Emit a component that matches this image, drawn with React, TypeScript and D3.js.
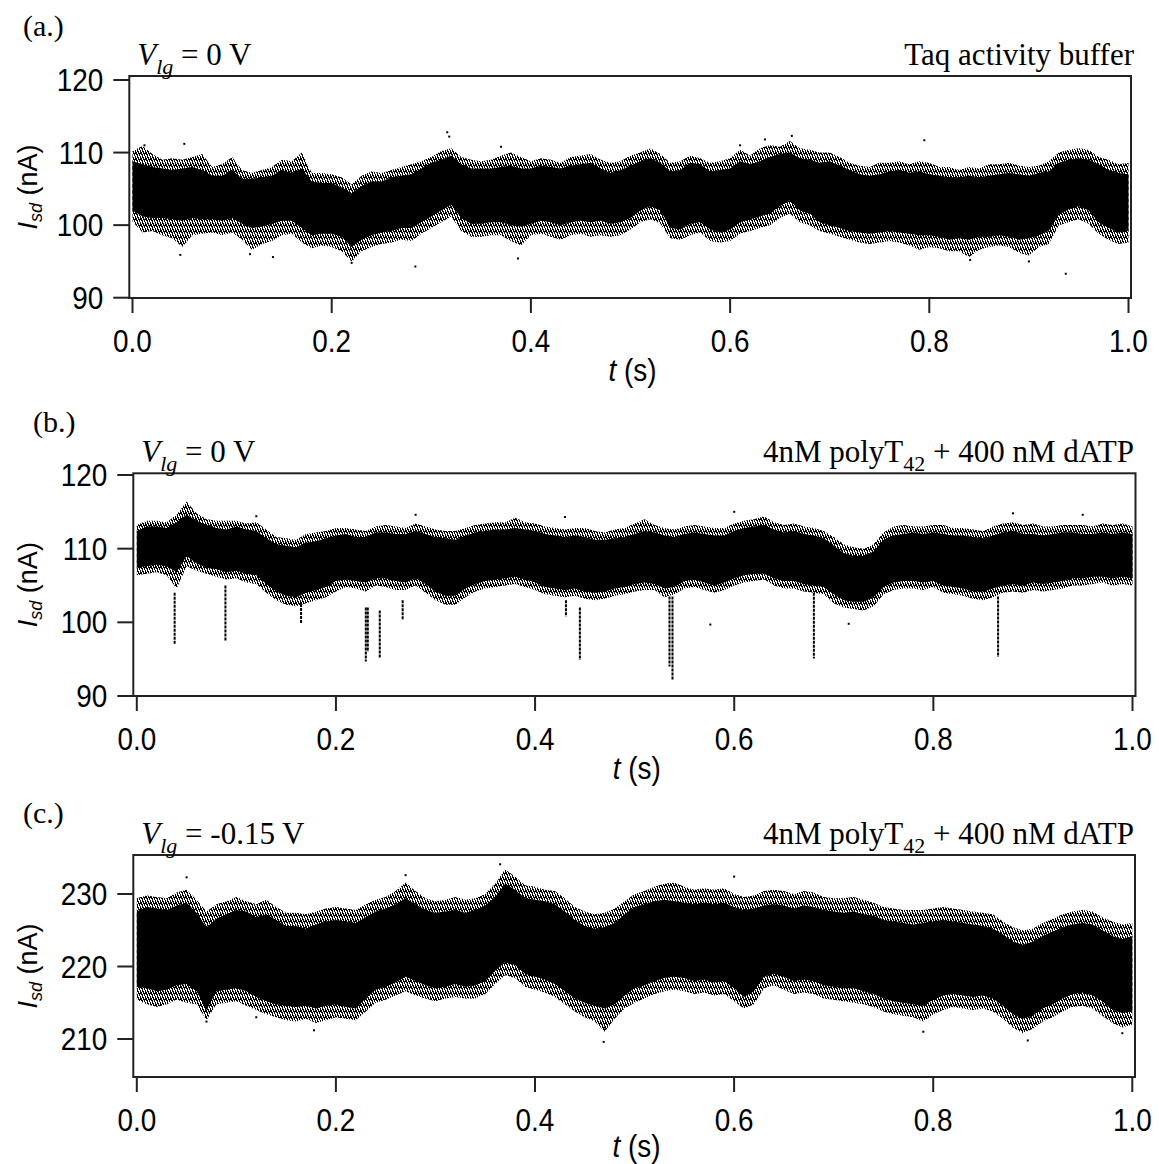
import React from "react";
import * as d3 from "d3";

// sample times (s), one sample every 10 ms
const sampleT = d3.range(101).map((i) => i / 100);

// ---------- Panel (a): Vlg = 0 V, Taq activity buffer ----------
const aCoreHi = [108.8,108.4,108.0,107.8,107.6,107.8,108.0,107.6,106.8,106.8,
107.6,106.4,106.4,106.6,106.8,107.6,107.2,107.8,106.0,105.8,
105.8,105.2,104.4,105.4,106.0,106.0,106.6,106.8,107.0,107.8,
108.6,109.0,109.6,108.4,107.8,107.8,107.8,108.0,108.2,107.8,
107.8,108.2,108.0,107.8,108.2,108.4,108.6,107.8,107.2,107.6,
108.2,108.8,109.2,108.6,107.4,107.6,108.6,108.4,107.4,107.6,
107.8,108.8,108.4,108.8,109.4,109.8,110.0,109.2,109.0,108.6,
108.8,108.2,107.6,107.0,106.8,107.0,107.4,107.6,107.2,107.4,
107.0,106.8,106.6,106.6,106.8,106.6,106.8,107.0,107.2,107.0,
106.8,107.2,107.4,108.6,109.0,109.2,109.0,108.4,107.6,107.2,
107.0];
const aCoreLo = [102.0,101.2,101.0,101.0,100.8,100.6,101.0,100.8,100.8,100.6,
101.0,100.2,99.6,99.8,100.2,100.6,100.6,99.6,98.6,98.8,
98.8,98.4,97.0,98.0,98.6,99.0,99.2,99.6,99.6,100.4,
101.2,102.0,102.8,101.0,100.2,100.2,100.4,100.4,100.0,99.8,
100.2,100.6,100.4,100.0,100.4,100.6,100.4,100.6,100.2,100.4,
101.0,102.0,102.6,102.0,99.6,99.4,100.2,100.4,99.4,99.0,
99.4,100.4,100.8,101.2,101.6,102.6,103.4,102.0,101.6,100.4,
100.0,99.6,99.2,99.0,98.8,99.0,99.2,99.0,98.8,98.6,
98.6,98.4,98.0,98.2,98.0,98.4,98.4,98.6,98.4,98.0,
98.2,98.6,99.2,101.4,102.2,102.6,102.0,100.4,99.6,99.0,
99.2];
const aOuterHi = [110.2,110.9,109.8,109.0,109.2,109.0,109.4,109.8,108.0,108.4,
109.4,107.6,107.2,107.6,108.0,109.0,108.8,110.0,107.2,107.2,
107.0,106.6,105.6,106.8,107.4,107.2,107.6,108.0,108.4,108.8,
109.4,110.2,110.6,109.4,109.0,108.8,109.0,109.6,110.0,109.4,
108.8,109.2,109.0,108.6,109.4,109.6,109.8,109.0,108.6,108.8,
109.6,110.0,110.6,109.8,108.6,108.8,109.6,109.2,108.6,108.8,
109.2,110.4,109.6,110.6,111.0,110.8,111.6,110.6,110.4,110.0,
110.0,109.4,108.6,108.2,108.0,108.6,108.6,108.8,108.4,108.8,
108.6,108.0,108.0,107.6,108.0,107.8,108.4,108.4,108.6,108.2,
108.0,108.2,108.8,110.0,110.4,110.6,110.4,109.4,109.0,108.4,
108.6];
const aOuterLo = [100.5,99.0,99.2,98.6,98.2,97.0,98.6,98.8,99.0,98.6,
99.0,98.0,96.6,97.4,97.8,98.6,98.8,97.6,96.8,97.2,
97.0,96.4,95.0,96.4,97.0,97.4,97.6,98.0,97.8,98.8,
99.6,100.4,101.2,99.2,98.4,98.4,98.6,98.6,97.8,97.2,
98.6,98.8,98.4,98.0,98.6,98.8,98.4,98.6,98.4,98.6,
99.4,100.4,100.8,100.2,98.2,98.0,98.6,99.0,97.8,97.6,
97.8,98.8,99.2,99.6,100.0,101.0,101.6,100.4,100.0,99.2,
98.8,98.4,98.0,97.6,97.4,97.6,97.8,97.6,97.2,96.6,
97.0,96.8,96.4,96.4,95.6,96.6,97.0,97.2,97.0,96.2,
95.8,97.0,97.4,100.0,100.4,100.8,100.2,98.8,98.0,97.4,
97.6];
const aDotT = [0.012,0.048,0.052,0.141,0.118,0.22,0.284,0.316,0.318,0.387,0.635,0.662,0.795,0.841,0.9,0.937,0.61,0.37];
const aDotV = [111.0,95.9,111.2,95.6,96.0,94.8,94.3,112.8,112.2,95.4,111.8,112.3,111.7,95.2,95.0,93.3,111.0,110.8];

// ---------- Panel (b): Vlg = 0 V, 4nM polyT42 + 400 nM dATP ----------
const bCoreHi = [112.4,113.0,113.0,112.8,113.6,114.6,113.8,113.2,112.8,112.6,
113.0,112.6,112.4,111.4,110.6,110.4,110.2,110.8,111.0,111.4,
111.8,112.0,111.6,111.6,112.2,112.2,112.0,112.0,112.4,112.0,
111.6,111.4,111.2,111.8,112.2,112.4,112.6,112.6,112.8,112.6,
112.4,112.0,111.8,111.6,111.8,111.6,111.2,111.2,111.4,111.6,
112.0,112.4,112.2,111.8,111.6,112.0,112.2,112.0,111.8,111.8,
112.4,112.8,113.0,113.2,112.6,112.2,112.4,112.0,111.8,111.4,
110.4,109.4,109.0,109.0,109.6,111.2,111.8,112.0,112.2,112.0,
112.2,112.0,111.8,111.8,111.6,111.4,111.8,112.2,112.4,112.0,
112.0,111.8,112.0,112.2,112.2,112.0,112.0,112.2,112.0,112.2,
112.0];
const bCoreLo = [107.4,107.6,107.8,107.6,106.8,109.0,108.0,107.4,107.2,106.8,
107.0,106.6,106.4,105.2,104.2,103.6,103.4,104.0,104.4,104.8,
105.6,105.8,105.6,105.4,106.0,106.0,105.6,105.4,106.0,105.2,
104.2,103.6,103.6,104.6,105.2,105.6,105.8,106.0,106.2,105.8,
105.4,104.8,104.6,104.4,104.6,104.2,104.0,104.2,104.6,104.8,
105.2,105.4,105.2,104.6,104.8,105.6,105.8,105.4,105.0,105.4,
106.0,106.4,106.6,106.6,106.0,105.6,105.6,105.2,105.0,104.8,
103.8,103.0,102.8,102.8,103.4,104.8,105.4,105.6,105.6,105.4,
105.6,105.0,104.8,104.6,104.2,104.2,104.6,105.0,105.2,105.0,
105.4,105.2,105.4,105.6,106.0,106.0,106.2,106.2,106.0,106.2,
106.0];
const bOuterHi = [113.2,113.8,113.8,113.6,114.6,116.4,114.8,114.0,113.8,113.8,
113.8,113.4,113.6,112.6,111.6,111.4,111.2,112.0,112.2,112.4,
112.8,112.8,112.6,112.4,113.0,113.2,113.0,112.8,113.4,113.0,
112.6,112.4,112.4,112.8,113.2,113.4,113.6,113.6,114.2,113.6,
113.4,113.0,112.8,112.6,112.8,112.8,112.4,112.2,112.6,112.8,
113.4,114.0,113.2,112.8,112.6,113.0,113.2,113.0,112.8,112.8,
113.4,113.8,114.0,114.4,113.6,113.2,113.4,113.0,112.8,112.4,
111.6,110.6,110.2,110.0,110.6,112.2,113.0,113.2,113.0,113.0,
113.2,113.2,112.8,112.8,112.6,112.4,113.0,113.4,113.6,113.2,
113.4,113.0,113.0,113.2,113.2,113.2,113.0,113.4,113.2,113.4,
113.0];
const bOuterLo = [106.4,106.6,106.8,106.4,104.6,107.6,107.0,106.6,106.2,105.8,
106.0,105.4,105.2,104.0,103.0,102.4,102.2,102.6,103.0,103.4,
104.2,104.8,104.6,104.2,105.0,104.8,104.4,104.4,105.0,104.0,
103.0,102.4,102.4,103.4,104.2,104.6,104.8,105.0,105.2,104.8,
104.4,103.8,103.6,103.4,103.6,103.2,103.0,103.2,103.6,103.8,
104.2,104.4,104.4,103.4,103.8,104.6,104.8,104.4,104.0,104.4,
105.0,105.4,105.6,105.8,105.0,104.6,104.6,104.2,104.0,103.8,
102.6,102.0,101.8,101.6,102.2,103.8,104.4,104.6,104.6,104.4,
104.8,104.0,103.8,103.6,103.2,103.0,103.4,104.0,104.2,104.0,
104.4,104.2,104.4,104.6,105.0,105.0,105.2,105.4,105.0,105.2,
105.0];
const bSpikeT = [0.038,0.089,0.165,0.230,0.232,0.244,0.267,0.431,0.445,0.535,0.538,0.68,0.865];
const bSpikeTop = [104.0,105.0,102.5,102.0,102.0,101.6,103.0,103.0,102.0,103.5,103.5,104.0,103.5];
const bSpikeBottom = [97.0,97.4,99.9,94.7,96.0,95.1,100.3,100.8,94.9,94.0,92.2,95.1,95.3];
const bDotT = [0.576,0.715,0.28,0.43,0.6,0.12,0.88,0.95];
const bDotV = [99.7,99.8,114.6,114.3,115.0,114.4,114.8,114.6];

// ---------- Panel (c): Vlg = -0.15 V, 4nM polyT42 + 400 nM dATP ----------
const cCoreHi = [227.6,228.2,228.0,227.8,228.4,228.8,227.4,225.4,226.6,227.2,
227.8,227.6,226.8,227.2,226.4,225.6,225.6,225.2,225.8,226.2,
226.4,226.2,226.0,226.8,227.6,228.0,228.6,229.4,228.6,227.8,
227.4,227.6,227.8,227.4,227.8,228.4,229.6,231.4,230.6,229.4,
229.2,229.0,228.6,227.6,226.4,225.6,225.2,225.4,226.0,227.2,
228.2,228.6,229.0,229.2,229.0,228.8,228.6,228.8,228.6,228.8,
228.2,227.8,228.0,228.4,228.6,228.4,228.0,228.4,228.2,227.8,
227.6,227.4,227.6,227.2,227.0,226.4,226.2,226.0,225.8,226.0,
226.2,226.4,226.2,226.0,225.8,225.6,225.2,224.4,223.4,223.0,
223.4,224.2,224.8,225.4,225.8,226.0,225.8,225.0,224.2,223.8,
224.2];
const cCoreLo = [217.2,217.0,216.6,216.8,217.4,217.6,216.6,214.0,216.6,216.8,
217.0,216.6,215.8,215.2,214.8,214.6,214.4,214.6,214.2,214.6,
214.8,214.4,214.2,215.6,216.8,217.2,217.8,218.6,218.0,217.4,
217.0,217.2,217.6,217.2,217.4,218.0,219.4,220.6,220.2,219.0,
218.6,218.2,217.6,216.6,215.6,215.0,214.6,214.2,214.8,216.0,
217.0,217.4,218.0,218.4,218.6,218.4,218.0,218.2,217.8,218.0,
217.0,215.8,216.6,218.6,219.0,218.6,218.0,218.2,218.0,217.4,
217.2,217.0,217.0,216.6,216.2,215.6,215.2,215.0,214.8,214.6,
215.4,216.0,216.2,216.0,215.8,216.0,215.6,214.6,213.4,212.8,
213.2,214.2,214.8,215.6,216.2,216.4,216.0,215.2,214.0,213.6,
213.8];
const cOuterHi = [229.4,229.8,229.6,229.4,230.2,230.6,229.2,227.6,228.6,229.0,
229.6,229.0,228.6,229.2,228.2,227.4,227.4,227.2,227.6,228.0,
228.2,228.0,227.8,228.6,229.2,229.6,230.4,231.6,230.4,229.4,
229.0,229.2,229.6,229.2,229.4,230.0,231.4,233.4,232.4,231.2,
231.0,230.6,230.4,229.4,228.2,227.6,227.2,227.4,228.0,229.0,
230.0,230.4,231.0,231.4,231.6,231.0,230.6,230.8,230.6,230.8,
230.0,229.6,229.8,230.4,230.6,230.4,230.0,230.4,230.2,229.6,
229.4,229.4,229.6,229.2,228.8,228.2,228.0,227.8,227.8,227.8,
228.0,228.2,228.0,227.8,227.6,227.4,227.2,226.2,225.4,225.0,
225.2,226.0,226.6,227.2,227.6,227.8,227.6,226.8,226.2,225.8,
226.0];
const cOuterLo = [215.4,214.8,214.4,214.8,215.4,215.0,214.8,212.6,214.8,215.0,
215.2,214.6,214.0,213.4,213.0,212.6,212.4,212.8,212.2,212.6,
213.0,212.8,212.6,213.8,215.0,215.4,216.0,216.6,216.0,215.6,
215.2,215.6,215.8,215.6,215.6,216.2,217.6,218.8,218.4,217.2,
216.8,216.4,215.8,214.8,213.8,213.0,212.4,211.0,212.8,214.2,
215.0,215.6,216.2,216.6,216.8,216.6,216.2,216.4,216.0,216.2,
215.2,214.2,214.8,217.0,217.4,216.8,216.2,216.4,216.2,215.6,
215.4,215.2,215.0,214.8,214.4,213.8,213.4,213.2,213.0,212.4,
213.4,214.0,214.4,214.2,214.0,214.2,213.8,212.8,211.6,210.8,
211.4,212.4,213.0,213.8,214.4,214.6,214.2,213.2,212.2,211.6,
212.0];
const cDotT = [0.05,0.07,0.178,0.365,0.469,0.79,0.895,0.99,0.6,0.12,0.27,0.47];
const cDotV = [232.3,212.4,211.2,234.1,209.6,211.0,209.8,210.8,232.4,213.0,232.6,211.6];

// ---------- Axis tick labels & texts ----------
const xTicks = [0, 0.2, 0.4, 0.6, 0.8, 1.0];
const abYTicks = [90, 100, 110, 120];
const cYTicks = [210, 220, 230];
const panelLetters = ["(a.)", "(b.)", "(c.)"];
const gateVoltages = ["0 V", "0 V", "-0.15 V"];

const SANS = "'Liberation Sans', Arial, Helvetica, sans-serif";
const SERIF = "'Liberation Serif', 'Times New Roman', Times, serif";

type PanelCfg = {
  id: string;
  letter: string;
  letterX: number;
  letterY: number;
  vlg: string;
  condition: "taq" | "poly";
  titleY: number;
  frame: { x0: number; x1: number; y0: number; y1: number };
  xRange: [number, number];
  yDomain: [number, number];
  yRange: [number, number];
  yTicks: number[];
  coreHi: number[];
  coreLo: number[];
  outerHi: number[];
  outerLo: number[];
  dotT: number[];
  dotV: number[];
  spikeT?: number[];
  spikeTop?: number[];
  spikeBottom?: number[];
};

const panels: PanelCfg[] = [
  {
    id: "a", letter: panelLetters[0], letterX: 23, letterY: 36, vlg: gateVoltages[0], condition: "taq", titleY: 65,
    frame: { x0: 129.3, x1: 1131, y0: 76, y1: 298 },
    xRange: [132.5, 1128.5], yDomain: [90, 120], yRange: [297.7, 80], yTicks: abYTicks,
    coreHi: aCoreHi, coreLo: aCoreLo, outerHi: aOuterHi, outerLo: aOuterLo, dotT: aDotT, dotV: aDotV,
  },
  {
    id: "b", letter: panelLetters[1], letterX: 33, letterY: 432, vlg: gateVoltages[1], condition: "poly", titleY: 462,
    frame: { x0: 133.3, x1: 1135.5, y0: 473.3, y1: 696 },
    xRange: [136.8, 1132.5], yDomain: [90, 120], yRange: [696, 475], yTicks: abYTicks,
    coreHi: bCoreHi, coreLo: bCoreLo, outerHi: bOuterHi, outerLo: bOuterLo, dotT: bDotT, dotV: bDotV,
    spikeT: bSpikeT, spikeTop: bSpikeTop, spikeBottom: bSpikeBottom,
  },
  {
    id: "c", letter: panelLetters[2], letterX: 23, letterY: 823, vlg: gateVoltages[2], condition: "poly", titleY: 844,
    frame: { x0: 133.3, x1: 1135, y0: 855, y1: 1077 },
    xRange: [136.8, 1132.3], yDomain: [210, 230], yRange: [1039, 894], yTicks: cYTicks,
    coreHi: cCoreHi, coreLo: cCoreLo, outerHi: cOuterHi, outerLo: cOuterLo, dotT: cDotT, dotV: cDotV,
  },
];

function Panel({ p }: { p: PanelCfg }) {
  const x = d3.scaleLinear().domain([0, 1]).range(p.xRange);
  const y = d3.scaleLinear().domain(p.yDomain).range(p.yRange);
  const idx = sampleT.map((_, i) => i);
  const outer = d3
    .area<number>()
    .x((i) => x(sampleT[i]))
    .y0((i) => y(p.outerLo[i]))
    .y1((i) => y(p.outerHi[i]))
    .curve(d3.curveLinear);
  const core = d3
    .area<number>()
    .x((i) => x(sampleT[i]))
    .y0((i) => y(p.coreLo[i]))
    .y1((i) => y(p.coreHi[i]))
    .curve(d3.curveLinear);
  const f = p.frame;
  const clipId = `clip-${p.id}`;
  const fmtX = d3.format(".1f");
  const tickFont = 31;
  const xTitleY = Math.min(f.y1 + 83, 1157);
  return (
    <g>
      <defs>
        <clipPath id={clipId}>
          <rect x={f.x0} y={f.y0} width={f.x1 - f.x0} height={f.y1 - f.y0} />
        </clipPath>
      </defs>
      <g clipPath={`url(#${clipId})`}>
        <path d={outer(idx) || ""} fill="url(#speckle)" />
        <path d={core(idx) || ""} fill="#000" />
        {p.spikeT &&
          p.spikeT.map((t, i) => (
            <line
              key={`s${i}`}
              x1={x(t)}
              x2={x(t)}
              y1={y(p.spikeTop![i])}
              y2={y(p.spikeBottom![i])}
              stroke="#000"
              strokeWidth={2}
              strokeDasharray="3 1"
            />
          ))}
        {p.dotT.map((t, i) => (
          <rect key={`d${i}`} x={x(t) - 1} y={y(p.dotV[i]) - 1} width={2} height={2} fill="#000" />
        ))}
      </g>
      {/* frame */}
      <rect x={f.x0} y={f.y0} width={f.x1 - f.x0} height={f.y1 - f.y0} fill="none" stroke="#222" strokeWidth={2} />
      {/* y ticks */}
      {p.yTicks.map((v) => (
        <g key={`yt${v}`}>
          <line x1={f.x0 - 16} x2={f.x0} y1={y(v)} y2={y(v)} stroke="#222" strokeWidth={2} />
          <text
            transform={`translate(${f.x0 - 26},${y(v) + 11}) scale(0.9,1)`}
            textAnchor="end"
            fontFamily={SANS}
            fontSize={tickFont}
            fill="#000"
          >
            {v}
          </text>
        </g>
      ))}
      {/* x ticks */}
      {xTicks.map((t) => (
        <g key={`xt${t}`}>
          <line x1={x(t)} x2={x(t)} y1={f.y1} y2={f.y1 + 15} stroke="#222" strokeWidth={2} />
          <text
            transform={`translate(${x(t)},${f.y1 + 54}) scale(0.9,1)`}
            textAnchor="middle"
            fontFamily={SANS}
            fontSize={tickFont}
            fill="#000"
          >
            {fmtX(t)}
          </text>
        </g>
      ))}
      {/* x title */}
      <text
        transform={`translate(${x(0.5) + 2},${xTitleY}) scale(0.9,1)`}
        textAnchor="middle"
        fontFamily={SANS}
        fontSize={tickFont}
        fill="#000"
      >
        <tspan fontStyle="italic">t</tspan>
        <tspan> (s)</tspan>
      </text>
      {/* y title */}
      <text
        transform={`translate(37,${(f.y0 + f.y1) / 2}) rotate(-90)`}
        textAnchor="middle"
        fontFamily={SANS}
        fontSize={27}
        fill="#000"
      >
        <tspan fontStyle="italic">I</tspan>
        <tspan fontStyle="italic" fontSize={18} dy={5}>sd</tspan>
        <tspan dy={-5}> (nA)</tspan>
      </text>
      {/* panel letter */}
      <text x={p.letterX} y={p.letterY} fontFamily={SERIF} fontSize={30} fill="#000">
        {p.letter}
      </text>
      {/* gate voltage */}
      <text x={f.x0 + 8} y={p.titleY} fontFamily={SERIF} fontSize={31} fill="#000">
        <tspan fontStyle="italic">V</tspan>
        <tspan fontStyle="italic" fontSize={22} dy={9}>lg</tspan>
        <tspan dy={-9}> = {p.vlg}</tspan>
      </text>
      {/* condition */}
      <text x={1134} y={p.titleY} textAnchor="end" fontFamily={SERIF} fontSize={31} fill="#000">
        {p.condition === "taq" ? (
          "Taq activity buffer"
        ) : (
          <>
            <tspan>4nM polyT</tspan>
            <tspan fontSize={22} dy={9}>42</tspan>
            <tspan dy={-9}> + 400 nM dATP</tspan>
          </>
        )}
      </text>
    </g>
  );
}

export default function App() {
  return (
    <div style={{ position: "absolute", left: 0, top: 0 }}>
      <svg width={1159} height={1164} viewBox="0 0 1159 1164" style={{ display: "block", background: "#fff" }}>
        <defs>
          <pattern id="speckle" width={5} height={6} patternUnits="userSpaceOnUse">
            <rect x={0} y={0} width={1} height={4} fill="#000" />
            <rect x={1} y={2} width={1} height={3} fill="#000" />
            <rect x={2} y={0} width={1} height={2} fill="#000" />
            <rect x={2} y={4} width={1} height={2} fill="#000" />
            <rect x={3} y={1} width={1} height={3} fill="#000" />
            <rect x={4} y={3} width={1} height={3} fill="#000" />
          </pattern>
        </defs>
        <rect x={0} y={0} width={1159} height={1164} fill="#fff" />
        {panels.map((p) => (
          <Panel key={p.id} p={p} />
        ))}
      </svg>
    </div>
  );
}
